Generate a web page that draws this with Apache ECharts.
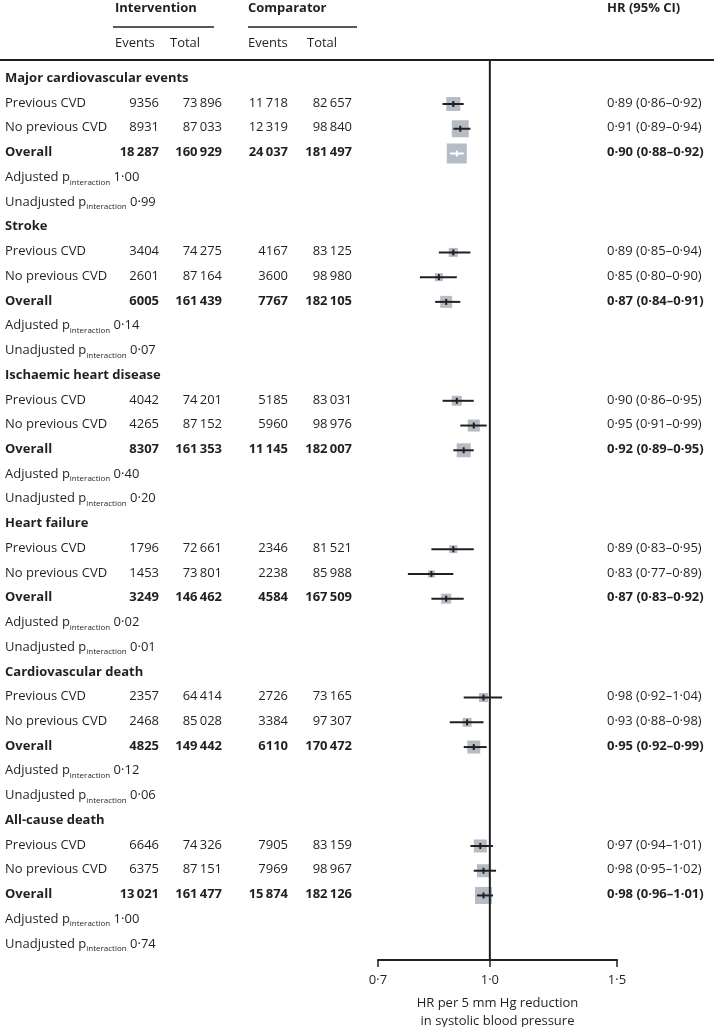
<!DOCTYPE html>
<html><head><meta charset="utf-8">
<script src="https://cdn.jsdelivr.net/npm/echarts@6/dist/echarts.min.js"></script>
<style>html,body{margin:0;padding:0;background:#fff}#c{width:714px;height:1027px}</style>
</head><body><div id="c"></div>
<script>
// ---------- data ----------
const sections = ['Major cardiovascular events', 'Stroke', 'Ischaemic heart disease', 'Heart failure', 'Cardiovascular death', 'All-cause death'];
const subgroups = ['Previous CVD', 'No previous CVD', 'Overall'];
const intEvents = [[9356, 8931, 18287], [3404, 2601, 6005], [4042, 4265, 8307], [1796, 1453, 3249], [2357, 2468, 4825], [6646, 6375, 13021]];
const intTotal = [[73896, 87033, 160929], [74275, 87164, 161439], [74201, 87152, 161353], [72661, 73801, 146462], [64414, 85028, 149442], [74326, 87151, 161477]];
const compEvents = [[11718, 12319, 24037], [4167, 3600, 7767], [5185, 5960, 11145], [2346, 2238, 4584], [2726, 3384, 6110], [7905, 7969, 15874]];
const compTotal = [[82657, 98840, 181497], [83125, 98980, 182105], [83031, 98976, 182007], [81521, 85988, 167509], [73165, 97307, 170472], [83159, 98967, 182126]];
const hr = [[0.89, 0.91, 0.90], [0.89, 0.85, 0.87], [0.90, 0.95, 0.92], [0.89, 0.83, 0.87], [0.98, 0.93, 0.95], [0.97, 0.98, 0.98]];
const ciLow = [[0.86, 0.89, 0.88], [0.85, 0.80, 0.84], [0.86, 0.91, 0.89], [0.83, 0.77, 0.83], [0.92, 0.88, 0.92], [0.94, 0.95, 0.96]];
const ciHigh = [[0.92, 0.94, 0.92], [0.94, 0.90, 0.91], [0.95, 0.99, 0.95], [0.95, 0.89, 0.92], [1.04, 0.98, 0.99], [1.01, 1.02, 1.01]];
const weight = [[14, 17, 20], [9, 8, 12], [10, 12, 14], [8, 7, 10], [9, 9, 13], [13, 13, 17]];
const pAdjusted = ['1·00', '0·14', '0·40', '0·02', '0·12', '1·00'];
const pUnadjusted = ['0·99', '0·07', '0·20', '0·01', '0·06', '0·74'];
const xTicks = [0.7, 1.0, 1.5];
const xTickLabels = ['0·7', '1·0', '1·5'];

// ---------- helpers ----------
const INK = '#231f20';
const BOX = '#b4bcc5';
const FONT = '"Open Sans", "Noto Sans", sans-serif';
const FS = 13;
const Y_MIN = -0.78, Y_MAX = 35.61;
function fmtInt(n) {
  const s = String(n);
  if (s.length < 5) return s;
  return s.replace(/\B(?=(\d{3})+(?!\d))/g, '\u2009');
}
function fmtDec(v) { return v.toFixed(2).replace('.', '·'); }

// text rows
const textRows = [];
const forestData = [];
sections.forEach((name, s) => {
  const base = s * 6;
  textRows.push({ row: base, kind: 'title', label: name });
  subgroups.forEach((g, k) => {
    textRows.push({
      row: base + 1 + k, kind: k === 2 ? 'overall' : 'sub', label: g,
      ev1: fmtInt(intEvents[s][k]), tot1: fmtInt(intTotal[s][k]),
      ev2: fmtInt(compEvents[s][k]), tot2: fmtInt(compTotal[s][k]),
      hr: fmtDec(hr[s][k]) + ' (' + fmtDec(ciLow[s][k]) + '–' + fmtDec(ciHigh[s][k]) + ')'
    });
    forestData.push([hr[s][k], ciLow[s][k], ciHigh[s][k], base + 1 + k, weight[s][k]]);
  });
  textRows.push({ row: base + 4, kind: 'p', label: 'Adjusted p', val: pAdjusted[s] });
  textRows.push({ row: base + 5, kind: 'p', label: 'Unadjusted p', val: pUnadjusted[s] });
});

const COL = { label: 5, ev1: 159, tot1: 222, ev2: 288, tot2: 352, hr: 607 };
const TEXT_DY = -1;

function txt(x, y, text, align, bold) {
  return { type: 'text', style: { x: x, y: y, text: text, align: align, verticalAlign: 'middle',
    fontFamily: FONT, fontSize: FS, fontWeight: bold ? 'bold' : 'normal', fill: INK } };
}

const chart = echarts.init(document.getElementById('c'), null, { renderer: 'canvas' });
chart.setOption({
  animation: false,
  backgroundColor: '#fff',
  grid: { left: 378, right: 97, top: 60, bottom: 67, containLabel: false, outerBoundsMode: 'none' },
  xAxis: {
    type: 'log', min: 0.7, max: 1.5, position: 'bottom',
    axisLine: { show: true, onZero: false, lineStyle: { color: INK, width: 2 } },
    axisTick: { show: true, length: 7, customValues: xTicks, lineStyle: { color: INK, width: 1.5 } },
    axisLabel: { show: true, customValues: xTicks, margin: 14, color: INK, fontFamily: FONT, fontSize: FS,
      formatter: v => xTickLabels[xTicks.findIndex(t => Math.abs(t - v) < 1e-6)] || '' },
    splitLine: { show: false },
    minorTick: { show: false },
    name: 'HR per 5 mm Hg reduction\nin systolic blood pressure',
    nameLocation: 'middle', nameGap: 34,
    nameTextStyle: { color: INK, fontFamily: FONT, fontSize: FS, lineHeight: 18 }
  },
  yAxis: {
    type: 'value', inverse: true, min: Y_MIN, max: Y_MAX, show: false
  },
  graphic: [
    { type: 'line', shape: { x1: 0, y1: 60, x2: 714, y2: 60 }, style: { stroke: INK, lineWidth: 2 } },
    { type: 'line', shape: { x1: 113, y1: 27, x2: 214, y2: 27 }, style: { stroke: INK, lineWidth: 1.5 } },
    { type: 'line', shape: { x1: 248, y1: 27, x2: 357, y2: 27 }, style: { stroke: INK, lineWidth: 1.5 } },
    txt(115, 8, 'Intervention', 'left', true),
    txt(248, 8, 'Comparator', 'left', true),
    txt(607, 8, 'HR (95% CI)', 'left', true),
    txt(115, 43, 'Events', 'left', false),
    txt(170, 43, 'Total', 'left', false),
    txt(248, 43, 'Events', 'left', false),
    txt(307, 43, 'Total', 'left', false)
  ],
  series: [
    {
      type: 'custom', clip: false, silent: true,
      data: textRows.map((r, i) => [1, r.row]),
      renderItem: function (params, api) {
        const r = textRows[params.dataIndex];
        const y = api.coord([1, r.row])[1] + TEXT_DY;
        if (r.kind === 'title') return { type: 'group', children: [txt(COL.label, y, r.label, 'left', true)] };
        if (r.kind === 'p') {
          return { type: 'group', children: [{
            type: 'text', style: {
              x: COL.label, y: y, align: 'left', verticalAlign: 'middle',
              text: r.label + '{sub|interaction} ' + r.val,
              fontFamily: FONT, fontSize: FS, fill: INK, lineHeight: 18,
              rich: { sub: { fontSize: 8, fontFamily: FONT, fill: INK, lineHeight: 9, verticalAlign: 'bottom' } }
            }
          }] };
        }
        const b = r.kind === 'overall';
        return { type: 'group', children: [
          txt(COL.label, y, r.label, 'left', b),
          txt(COL.ev1, y, r.ev1, 'right', b),
          txt(COL.tot1, y, r.tot1, 'right', b),
          txt(COL.ev2, y, r.ev2, 'right', b),
          txt(COL.tot2, y, r.tot2, 'right', b),
          txt(COL.hr, y, r.hr, 'left', b)
        ] };
      }
    },
    {
      type: 'custom', clip: false, silent: true, z: 2,
      data: forestData,
      renderItem: function (params, api) {
        const row = api.value(3), w = api.value(4);
        const c = api.coord([api.value(0), row]);
        const l = api.coord([api.value(1), row]);
        const h = api.coord([api.value(2), row]);
        const half = w / 2;
        const inside = l[0] >= c[0] - half && h[0] <= c[0] + half;
        const lc = inside ? '#ffffff' : INK;
        return { type: 'group', children: [
          { type: 'rect', shape: { x: c[0] - half, y: c[1] - half, width: w, height: w }, style: { fill: BOX } },
          { type: 'line', shape: { x1: l[0], y1: c[1], x2: h[0], y2: c[1] }, style: { stroke: lc, lineWidth: 2 } },
          { type: 'rect', shape: { x: c[0] - 1, y: c[1] - 3, width: 2, height: 6 }, style: { fill: lc } }
        ] };
      }
    },
    {
      type: 'line', z: 5, silent: true, symbol: 'none', animation: false,
      data: [[1, Y_MIN], [1, Y_MAX]],
      lineStyle: { color: INK, width: 2 }
    }
  ]
});
</script></body></html>
